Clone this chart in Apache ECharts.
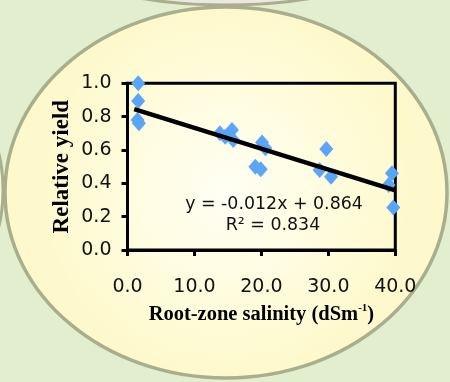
<!DOCTYPE html>
<html>
<head>
<meta charset="utf-8">
<script src="https://cdn.jsdelivr.net/npm/echarts@6/dist/echarts.min.js"></script>
<style>
html,body{margin:0;padding:0;background:#e3eecf;}
#container1{width:450px;height:382px;}
</style>
</head>
<body>
<div id="container1"></div>
<script>
// 散点数据：根区盐度 vs 相对产量
var salinity = [1.6, 1.6, 1.5, 1.7, 13.8, 14.6, 15.6, 15.8, 20.1, 20.6, 19.1, 19.9, 29.7, 28.7, 30.4, 39.5, 39.0, 39.7];
var yieldRel = [1.0, 0.894, 0.78, 0.76, 0.70, 0.68, 0.72, 0.66, 0.645, 0.61, 0.50, 0.485, 0.606, 0.48, 0.44, 0.46, 0.39, 0.255];
// 趋势线两端
var trendX = [1.0, 40];
var trendY = [0.845, 0.358];
var xTicks = ['0.0', '10.0', '20.0', '30.0', '40.0'];
var yTicks = ['0.0', '0.2', '0.4', '0.6', '0.8', '1.0'];
var eqText = ['y = -0.012x + 0.864', 'R² = 0.834'];

var SANS = '"DejaVu Sans", Verdana, sans-serif';
var SERIF = '"Liberation Serif", "Times New Roman", serif';

window.onload = function () {
	draw();
};

function draw() {
	var dom = document.getElementById("container1");
	var myChart = echarts.init(dom);

	var pts = [];
	for (var i = 0; i < salinity.length; i++) {
		pts.push([salinity[i], yieldRel[i]]);
	}
	var trend = [];
	for (var j = 0; j < trendX.length; j++) {
		trend.push([trendX[j], trendY[j]]);
	}

	var option = {
		backgroundColor: '#e3eecf',
		animation: false,
		graphic: [
			// 背景椭圆
			{
				type: 'ellipse', z: -10,
				shape: {cx: 226, cy: -60, rx: 190, ry: 65},
				style: {fill: '#ede6e3', stroke: '#a9ae8c', lineWidth: 3}
			},
			{
				type: 'ellipse', z: -10,
				shape: {cx: -60, cy: 190, rx: 63, ry: 100},
				style: {fill: '#fdf8d2', stroke: '#a9ae8c', lineWidth: 3}
			},
			{
				type: 'ellipse', z: -9,
				shape: {cx: 226, cy: 192.5, rx: 221, ry: 185.5},
				style: {
					fill: new echarts.graphic.RadialGradient(0.5, 0.5, 0.5, [
						{offset: 0, color: '#fffff4'},
						{offset: 1, color: '#fef9cc'}
					]),
					stroke: '#a9ae8c', lineWidth: 3.5
				}
			},
			{
				type: 'text', z: 10, x: 274, y: 204,
				style: {text: eqText[0], fill: '#111', fontFamily: SANS, fontSize: 17.4, align: 'center', verticalAlign: 'middle'}
			},
			{
				type: 'text', z: 10, x: 273, y: 225,
				style: {text: eqText[1], fill: '#111', fontFamily: SANS, fontSize: 17.4, align: 'center', verticalAlign: 'middle'}
			}
		],
		grid: {
			left: 127.5,
			right: 54.7,
			top: 83.3,
			bottom: 132,
			show: true,
			backgroundColor: 'transparent',
			borderColor: '#000',
			borderWidth: 3
		},
		xAxis: {
			type: 'value',
			min: 0,
			max: 40,
			interval: 10,
			name: '{a|Root-zone salinity (dSm}{sup|-1}{a|)}',
			nameLocation: 'middle',
			nameGap: 53,
			nameTextStyle: {
				color: '#000',
				rich: {
					a: {fontFamily: SERIF, fontWeight: 'bold', fontSize: 20.5, lineHeight: 24, color: '#000'},
					sup: {fontFamily: SERIF, fontWeight: 'bold', fontSize: 11, lineHeight: 14, verticalAlign: 'top', color: '#000'}
				}
			},
			axisLine: {onZero: false, lineStyle: {color: '#000', width: 3}},
			axisTick: {show: true, inside: false, length: 6, lineStyle: {color: '#000', width: 3}},
			axisLabel: {
				margin: 28,
				fontFamily: SANS,
				fontSize: 19,
				color: '#111',
				formatter: function (v) { return xTicks[v / 10]; }
			},
			splitLine: {show: false}
		},
		yAxis: {
			type: 'value',
			min: 0,
			max: 1,
			interval: 0.2,
			name: 'Relative yield',
			nameLocation: 'middle',
			nameGap: 54,
			nameMoveOverlap: false,
			nameTextStyle: {
				fontFamily: SERIF,
				fontWeight: 'bold',
				fontSize: 23,
				color: '#000'
			},
			axisLine: {onZero: false, lineStyle: {color: '#000', width: 3}},
			axisTick: {show: true, inside: false, length: 6, lineStyle: {color: '#000', width: 3}},
			axisLabel: {
				margin: 16,
				fontFamily: SANS,
				fontSize: 19,
				color: '#111',
				formatter: function (v) { return yTicks[Math.round(v * 5)]; }
			},
			splitLine: {show: false}
		},
		series: [
			{
				name: 'yield',
				type: 'scatter',
				data: pts,
				symbol: 'diamond',
				symbolSize: [14, 16],
				itemStyle: {color: '#5aa5f7', opacity: 1},
				z: 2
			},
			{
				name: 'trend',
				type: 'line',
				data: trend,
				symbol: 'none',
				lineStyle: {color: '#000', width: 4.5},
				z: 3
			}
		]
	};

	myChart.setOption(option, true);
}
</script>
</body>
</html>
